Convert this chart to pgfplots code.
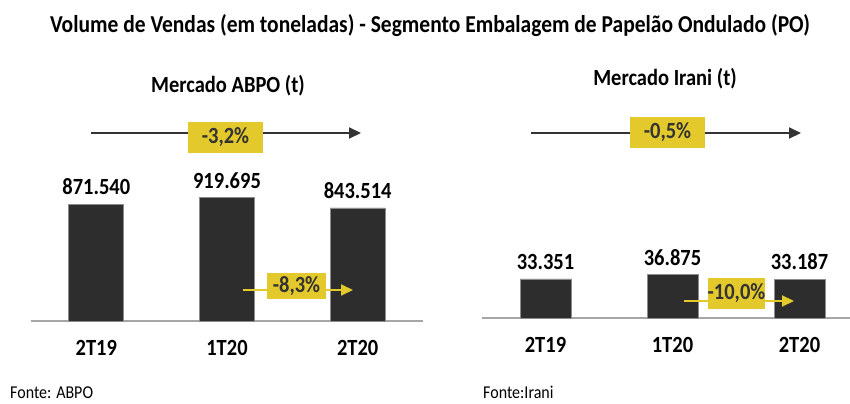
\documentclass[border=0pt]{standalone}
\usepackage{pgfplots}
\pgfplotsset{compat=1.18}
\usepackage{graphicx}
\usepackage{fontspec}
\setmainfont{Carlito}
\usetikzlibrary{arrows.meta}
\definecolor{bardark}{HTML}{2D2D2D}
\definecolor{baredge}{HTML}{8C8C8C}
\definecolor{ylw}{HTML}{E3C92B}
\definecolor{txt}{HTML}{333333}
\definecolor{axisgray}{HTML}{A6A6A6}
\newcommand{\bigb}{\fontsize{20.5bp}{24bp}\selectfont\bfseries}
\newcommand{\tall}[1]{\scalebox{1}[1.13]{#1}}
\pgfplotsset{panel/.style={
  scale only axis, axis x line=bottom, axis y line=none,
  x axis line style={-, draw=axisgray, line width=2bp},
  ymin=0, xtick={0,1,2}, xticklabels={\tall{2T19},\tall{1T20},\tall{2T20}},
  major tick length=0pt,
  xticklabel style={font=\bigb, anchor=base, inner sep=0pt, yshift=-34bp, text=black},
  ytick=\empty, ybar, bar shift=0pt,
  nodes near coords={\tall{\pgfplotspointmeta}}, point meta=explicit symbolic,
  every node near coord/.append style={font=\bigb, anchor=south, inner sep=0pt, yshift=9bp, text=black},
  clip=false}}
\pgfplotstableread{
x y label
0 871540 871.540
1 919695 919.695
2 843514 843.514
}\abpo
\pgfplotstableread{
x y label
0 33351 33.351
1 36875 36.875
2 33187 33.187
}\irani
\begin{document}
\begin{tikzpicture}[x=1bp,y=1bp]
\useasboundingbox (0,0) rectangle (850,403);
\begin{axis}[panel, at={(31bp,82bp)}, anchor=south west, width=392bp, height=134bp,
  xmin=-0.5, xmax=2.5, ymax=1000000, bar width=55bp]
\addplot[fill=bardark, draw=baredge, line width=0.8bp] table[x=x, y=y, meta=label] {\abpo};
\end{axis}
\begin{axis}[panel, at={(482bp,85bp)}, anchor=south west, width=368.3bp, height=117bp,
  xmin=-0.5, xmax=2.4, ymax=100000, bar width=51bp]
\addplot[fill=bardark, draw=baredge, line width=0.8bp] table[x=x, y=y, meta=label] {\irani};
\end{axis}
% titles
\node[font=\fontsize{21.5bp}{25bp}\selectfont\bfseries, text=black] at (430,377) {\tall{Volume de Vendas (em toneladas) - Segmento Embalagem de Papelão Ondulado (PO)}};
\node[font=\bigb, text=black] at (228,317) {\tall{Mercado ABPO (t)}};
\node[font=\bigb, text=black] at (665,324) {\tall{Mercado Irani (t)}};
% annotations
\draw[txt, line width=2bp, -{Triangle[length=12bp,width=11bp]}] (91,270) -- (361,270);
\node[fill=ylw, minimum width=75bp, minimum height=31bp, inner sep=0pt, font=\bigb, text=txt] at (225.5,265.5) {\tall{-3,2\%}};
\draw[ylw, line width=2bp, -{Triangle[length=12bp,width=11bp]}] (243,113) -- (353,113);
\node[fill=ylw, minimum width=59bp, minimum height=26bp, inner sep=0pt, font=\bigb, text=txt] at (296.5,117) {\tall{-8,3\%}};
\draw[txt, line width=2bp, -{Triangle[length=12bp,width=11bp]}] (531,270) -- (801,270);
\node[fill=ylw, minimum width=75bp, minimum height=31bp, inner sep=0pt, font=\bigb, text=txt] at (667.5,270.5) {\tall{-0,5\%}};
\draw[ylw, line width=2bp, -{Triangle[length=12bp,width=11bp]}] (684,102) -- (794,102);
\node[fill=ylw, minimum width=57bp, minimum height=31bp, inner sep=0pt, font=\bigb, text=txt] at (736.5,109.5) {\tall{-10,0\%}};
% sources
\node[anchor=base west, inner sep=0pt, font=\fontsize{16bp}{19bp}\selectfont, text=black] at (10,5) {\tall{Fonte: ABPO}};
\node[anchor=base west, inner sep=0pt, font=\fontsize{16bp}{19bp}\selectfont, text=black] at (483,5) {\tall{Fonte:Irani}};
\end{tikzpicture}
\end{document}
